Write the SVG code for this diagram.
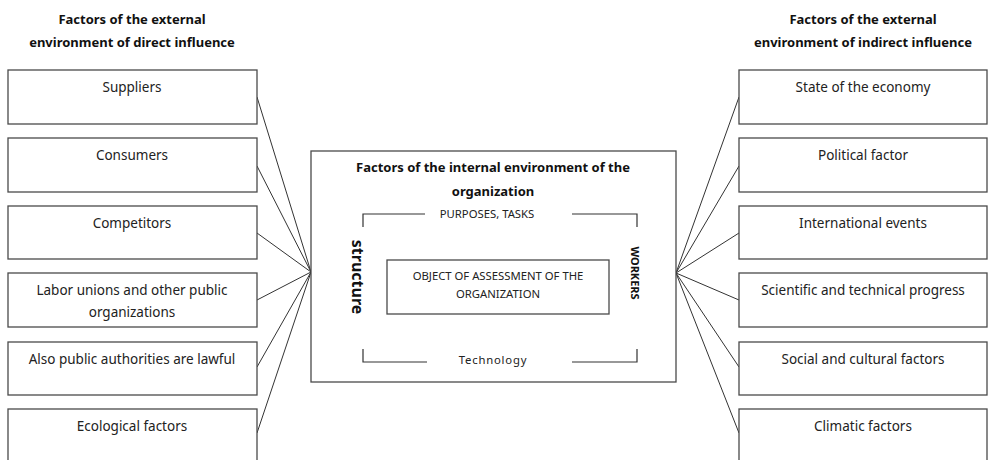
<svg xmlns="http://www.w3.org/2000/svg" width="988" height="460" viewBox="0 0 988 460">
<style>
  .box { fill: #ffffff; stroke: #4a4a4a; stroke-width: 1.3; }
  .t { font-family: "Noto Sans", "Open Sans", sans-serif; font-size: 13.5px; fill: #222; text-anchor: middle; }
  .title { font-family: "Noto Sans", "Open Sans", sans-serif; font-size: 13px; font-weight: bold; fill: #111; text-anchor: middle; }
  .small { font-family: "Noto Sans", "Open Sans", sans-serif; font-size: 11.3px; fill: #222; text-anchor: middle; }
  .vert { font-family: "Noto Sans", "Open Sans", sans-serif; font-weight: bold; fill: #111; text-anchor: middle; }
  .conn line { stroke: #333; stroke-width: 1; }
  .brk { fill: none; stroke: #333; stroke-width: 1.2; }
</style>
<rect width="988" height="460" fill="#ffffff"/>

<g id="title-left">
  <text class="title" x="132" y="24">Factors of the external</text>
  <text class="title" x="132" y="47">environment of direct influence</text>
</g>
<g id="title-right">
  <text class="title" x="863" y="24">Factors of the external</text>
  <text class="title" x="863" y="47">environment of indirect influence</text>
</g>

<g id="connectors" class="conn">
  <line x1="257" y1="97" x2="311" y2="272"/>
  <line x1="257" y1="166" x2="311" y2="272"/>
  <line x1="257" y1="233" x2="311" y2="272"/>
  <line x1="257" y1="300" x2="311" y2="272"/>
  <line x1="257" y1="367" x2="311" y2="272"/>
  <line x1="257" y1="433" x2="311" y2="272"/>
  <line x1="739" y1="97" x2="676" y2="273"/>
  <line x1="739" y1="166" x2="676" y2="273"/>
  <line x1="739" y1="233" x2="676" y2="273"/>
  <line x1="739" y1="300" x2="676" y2="273"/>
  <line x1="739" y1="367" x2="676" y2="273"/>
  <line x1="739" y1="433" x2="676" y2="273"/>
</g>

<g id="suppliers"><rect class="box" x="8" y="70" width="249" height="54"/><text class="t" x="132" y="92">Suppliers</text></g>
<g id="consumers"><rect class="box" x="8" y="138" width="249" height="54"/><text class="t" x="132" y="160">Consumers</text></g>
<g id="competitors"><rect class="box" x="8" y="206" width="249" height="53"/><text class="t" x="132" y="228">Competitors</text></g>
<g id="labor-unions"><rect class="box" x="8" y="273" width="249" height="54"/><text class="t" x="132" y="295">Labor unions and other public</text><text class="t" x="132" y="317">organizations</text></g>
<g id="public-authorities"><rect class="box" x="8" y="342" width="249" height="53"/><text class="t" x="132" y="364">Also public authorities are lawful</text></g>
<g id="ecological"><rect class="box" x="8" y="409" width="249" height="54"/><text class="t" x="132" y="431">Ecological factors</text></g>

<g id="economy"><rect class="box" x="739" y="70" width="248" height="54"/><text class="t" x="863" y="92">State of the economy</text></g>
<g id="political"><rect class="box" x="739" y="138" width="248" height="54"/><text class="t" x="863" y="160">Political factor</text></g>
<g id="international"><rect class="box" x="739" y="206" width="248" height="53"/><text class="t" x="863" y="228">International events</text></g>
<g id="scientific"><rect class="box" x="739" y="273" width="248" height="54"/><text class="t" x="863" y="295">Scientific and technical progress</text></g>
<g id="social"><rect class="box" x="739" y="342" width="248" height="53"/><text class="t" x="863" y="364">Social and cultural factors</text></g>
<g id="climatic"><rect class="box" x="739" y="409" width="248" height="54"/><text class="t" x="863" y="431">Climatic factors</text></g>

<g id="internal">
  <rect class="box" x="311" y="151" width="365" height="231"/>
  <text class="title" x="493" y="172">Factors of the internal environment of the</text>
  <text class="title" x="493" y="196">organization</text>
  <path class="brk" d="M363,227 V214 H425 M572,214 H637 V227"/>
  <text class="small" x="487" y="218" font-size="11.8">PURPOSES, TASKS</text>
  <path class="brk" d="M363,349 V362 H427 M572,362 H637 V349"/>
  <text class="small" x="493" y="364" font-size="11.5" letter-spacing="0.8">Technology</text>
  <text class="vert" font-size="16" transform="translate(352,277) rotate(90)">structure</text>
  <text class="vert" font-size="11" transform="translate(631,273) rotate(90)">WORKERS</text>
</g>

<g id="object">
  <rect class="box" x="387" y="260" width="222" height="54"/>
  <text class="small" x="498" y="280">OBJECT OF ASSESSMENT OF THE</text>
  <text class="small" x="498" y="298">ORGANIZATION</text>
</g>
</svg>
